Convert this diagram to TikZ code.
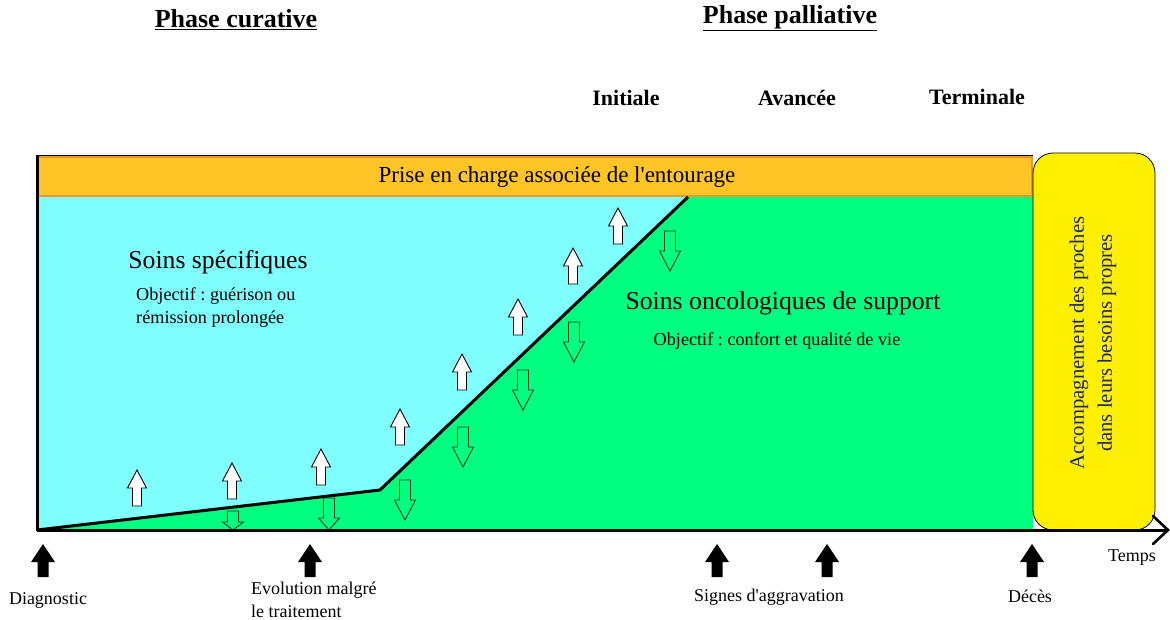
\documentclass[tikz,border=0pt]{standalone}
\usepackage{fontspec}
\setmainfont{Liberation Serif}
\frenchspacing
\definecolor{cyanfill}{RGB}{128,255,255}
\definecolor{greenfill}{RGB}{0,255,128}
\definecolor{orangefill}{RGB}{255,197,38}
\definecolor{orangeline}{RGB}{235,150,40}
\definecolor{yellowfill}{RGB}{255,240,0}
\definecolor{navytext}{RGB}{30,40,110}
\definecolor{arrline}{RGB}{20,60,30}
\newcommand\fs[2]{\fontsize{#1}{#2}\selectfont\frenchspacing}
\newcommand\upar[2]{\draw[uparrow] (#1,#2) -- ++(9.5,18) -- ++(-5,0) -- ++(0,18) -- ++(-9,0) -- ++(0,-18) -- ++(-5,0) -- cycle;}
\newcommand\dnar[4]{\draw[dnarrow] (#1,#2) ++(-5.5,0) -- ++(11,0) -- ++(0,#3) -- ++(5,0) -- ++(-10.5,#4) -- ++(-10.5,-#4) -- ++(5,0) -- cycle;}
\newcommand\blkar[1]{\fill[black] (#1,544) -- ++(12,18) -- ++(-6.5,0) -- ++(0,15) -- ++(-11,0) -- ++(0,-15) -- ++(-6.5,0) -- cycle;}
\tikzset{
  uparrow/.style={draw=black, fill=white, line width=0.9pt, line join=miter},
  dnarrow/.style={draw=arrline, fill=greenfill, line width=0.9pt, line join=miter},
  lbl/.style={inner sep=0pt, font=\fs{18}{23}},
  head/.style={inner sep=0pt, font=\fs{26}{30}\bfseries},
  sub/.style={inner sep=0pt, font=\fs{22}{25}\bfseries},
  big/.style={inner sep=0pt, font=\fs{25.7}{30}},
  obj/.style={inner sep=0pt, font=\fs{18.2}{23}, align=left},
}
\begin{document}
\begin{tikzpicture}[x=1pt,y=-1pt]
\useasboundingbox (0,0) rectangle (1170,619);
% regions
\fill[cyanfill] (37,157) rectangle (1033,530);
\fill[greenfill] (37,530) -- (380,490) -- (688,197) -- (1033,197) -- (1033,530) -- cycle;
% orange band
\draw[orangeline, fill=orangefill, line width=1.2pt] (38,157) rectangle (1032,196);
\node[inner sep=0pt, font=\fs{23}{27}] (band) at (557,177) {Prise en charge associée de l\textquotesingle entourage};
% frame
\draw[black, line width=1.2pt] (37,155.5) -- (1033,155.5);
\draw[black, line width=3pt] (37.5,155) -- (37.5,531);
% yellow box
\draw[black, line width=0.8pt, fill=yellowfill, rounded corners=20pt] (1033,153) rectangle (1155,530);
\node[inner sep=0pt, rotate=90, align=center, text=navytext, font=\fs{20.7}{28}] (accomp) at (1093,343) {Accompagnement des proches\\dans leurs besoins propres};
% boundary line
\draw[black, line width=3pt, line join=round] (37,530) -- (380,490) -- (688,197);
% up arrows
\upar{137}{470}
\upar{232}{463}
\upar{321}{449}
\upar{400}{409}
\upar{462}{354}
\upar{518}{299}
\upar{573}{248}
\upar{618}{208}
% down arrows
\dnar{233}{511}{11}{8}
\dnar{329}{498}{20}{12}
\dnar{405}{480}{20}{20}
\dnar{463}{427}{20}{20}
\dnar{523}{370}{20}{20}
\dnar{574}{322}{20}{20}
\dnar{670}{231}{20}{20}
% axis
\coordinate (ax0) at (37,530);
\coordinate (ax1) at (1168,530);
\draw[black, line width=3pt] (ax0) -- (ax1);
\draw[black, line width=2.6pt, line cap=round, line join=miter] (1153,516) -- (1168,530) -- (1153,544);
% texts
\node[big] (spec) at (218,262) {Soins spécifiques};
\node[obj, anchor=west] (obj1) at (136,307.5) {Objectif : guérison ou\\rémission prolongée};
\node[big] (onco) at (783,303) {Soins oncologiques de support};
\node[obj] (obj2) at (777,341) {Objectif : confort et qualité de vie};
\node[head] (cur) at (236,20) {\underline{Phase curative}};
\node[head] (pal) at (790,18) {\underline{Phase palliative}};
\node[sub] (ini) at (626,98) {Initiale};
\node[sub] (ava) at (797,98) {Avancée};
\node[sub] (ter) at (977,97) {Terminale};
% bottom markers
\blkar{43}
\blkar{310}
\blkar{717}
\blkar{827}
\blkar{1032}
\node[lbl] (diag) at (48,600) {Diagnostic};
\node[lbl, anchor=west, align=left] (evol) at (251,599.5) {Evolution malgré\\le traitement};
\node[lbl] (signes) at (769,597) {Signes d\textquotesingle aggravation};
\node[lbl] (deces) at (1030,596) {Décès};
\node[lbl] (temps) at (1132,558) {Temps};
\end{tikzpicture}
\end{document}
